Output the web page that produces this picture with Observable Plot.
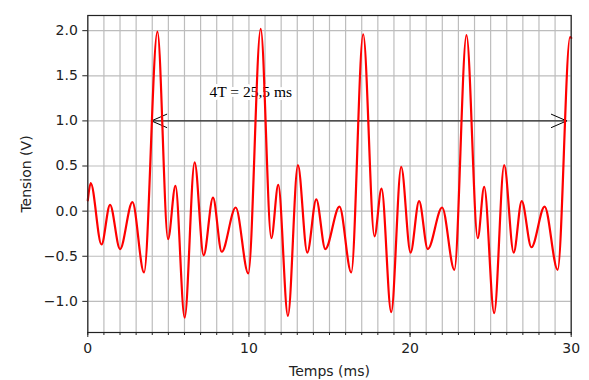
<!DOCTYPE html>
<html><head><meta charset="utf-8">
<script src="https://cdn.jsdelivr.net/npm/d3@7"></script>
<script src="https://cdn.jsdelivr.net/npm/@observablehq/plot@0.6"></script>
<style>body{margin:0;background:#fff}#chart svg{display:block}</style>
</head><body><div id="chart"></div>
<script>
// Signal (extrema of the curve)
const timeMs = [0, 0.18, 0.85, 1.38, 2.0, 2.77, 3.49, 4.32, 4.98, 5.44, 6.01, 6.63, 7.19, 7.77, 8.31, 9.18, 9.96, 10.73, 11.39, 11.82, 12.42, 13.04, 13.62, 14.18, 14.74, 15.62, 16.35, 17.09, 17.79, 18.23, 18.83, 19.45, 20.03, 20.56, 21.1, 21.99, 22.75, 23.5, 24.2, 24.6, 25.22, 25.84, 26.43, 26.93, 27.53, 28.35, 29.16, 29.93, 30];
const tensionV = [0.12, 0.31, -0.37, 0.07, -0.42, 0.10, -0.68, 1.99, -0.31, 0.28, -1.18, 0.54, -0.49, 0.15, -0.45, 0.04, -0.69, 2.02, -0.30, 0.29, -1.16, 0.51, -0.46, 0.13, -0.42, 0.05, -0.68, 1.96, -0.28, 0.25, -1.12, 0.49, -0.46, 0.11, -0.42, 0.04, -0.65, 1.95, -0.30, 0.27, -1.13, 0.51, -0.46, 0.11, -0.40, 0.05, -0.65, 1.93, 1.92];

const xMajorTicks = [0, 10, 20, 30];
const xMinorTicks = [0,1,2,3,4,5,6,7,8,9,10,11,12,13,14,15,16,17,18,19,20,21,22,23,24,25,26,27,28,29,30];
const yTicks = [-1.0, -0.5, 0.0, 0.5, 1.0, 1.5, 2.0];

const annotationLabel = ["4T = 25,5 ms"];
const annotationX = [7.55];
const annotationY = [1.27];
const arrowStart = [3.95];
const arrowEnd = [29.72];
const arrowLevel = [1.0];

const points = timeMs.map((t, i) => ({t, v: tensionV[i]}));
const mid = (arrowStart[0] + arrowEnd[0]) / 2;
const arrows = [
  {x1: mid, x2: arrowStart[0], y: arrowLevel[0]},
  {x1: mid, x2: arrowEnd[0], y: arrowLevel[0]}
];
const labels = annotationLabel.map((s, i) => ({s, x: annotationX[i], y: annotationY[i]}));

const plot = Plot.plot({
  width: 589,
  height: 380,
  marginLeft: 87.3,
  marginRight: 18.3,
  marginTop: 15,
  marginBottom: 48,
  style: {fontFamily: "DejaVu Sans", fontSize: "14px", color: "#222", background: "#fff"},
  x: {domain: [0, 30]},
  y: {domain: [-1.345, 2.168]},
  marks: [
    Plot.gridX(xMinorTicks, {stroke: "#bdbdbd", strokeOpacity: 1, strokeWidth: 1.2}),
    Plot.gridY(yTicks, {stroke: "#bdbdbd", strokeOpacity: 1, strokeWidth: 1.2}),
    Plot.axisX(xMinorTicks, {tickSize: 3, tickFormat: () => "", label: null}),
    Plot.axisX(xMajorTicks, {tickSize: 5, tickPadding: 6, tickFormat: d => String(d), fontSize: 14,
      label: "Temps (ms)", labelAnchor: "center", labelOffset: 43, labelArrow: "none"}),
    Plot.axisY(yTicks, {tickSize: 5, tickPadding: 5, tickFormat: d3.format(".1f"), fontSize: 14,
      label: "Tension (V)", labelAnchor: "center", labelOffset: 67, labelArrow: "none"}),
    Plot.text(labels, {x: "x", y: "y", text: "s", textAnchor: "start", lineAnchor: "bottom",
      fontFamily: "Liberation Serif", fontSize: 15.5, fill: "#000", stroke: "#fff", strokeWidth: 6}),
    Plot.arrow(arrows, {x1: "x1", x2: "x2", y1: "y", y2: "y", stroke: "#000", strokeWidth: 1,
      headLength: 25, headAngle: 47}),
    Plot.line(points, {x: "t", y: "v", stroke: "#ff0000", strokeWidth: 2.2, curve: "monotone-x"}),
    Plot.frame({stroke: "#222", strokeWidth: 1.2})
  ]
});
document.getElementById("chart").append(plot);
</script>
</body></html>
